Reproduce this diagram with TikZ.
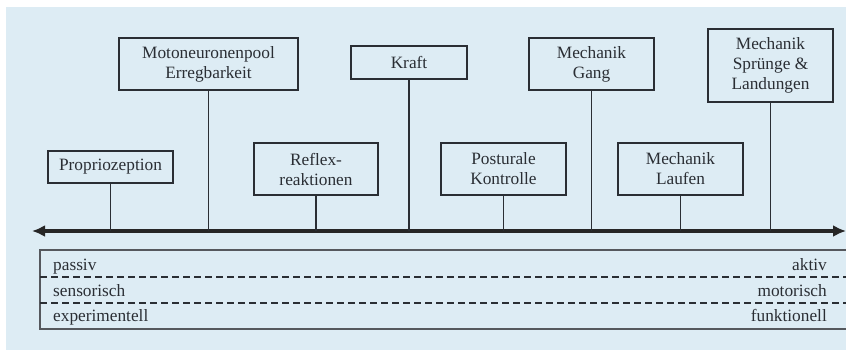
\documentclass[tikz,border=0pt]{standalone}
\usepackage{fontspec}
\setmainfont{Liberation Serif}
\usetikzlibrary{arrows.meta}
\definecolor{hellblau}{RGB}{221,236,244}
\definecolor{dunkel}{RGB}{42,46,52}
\tikzset{x=1pt, y=-1pt, % one unit is one pixel, y runs downwards
	kasten/.style={draw=dunkel, line width=1.8pt, align=center, inner sep=0pt,
		minimum width=125pt, minimum height=52pt,
		font=\fontsize{17.3}{20}\selectfont, text=dunkel}, % the boxes above the axis
	stiel/.style={draw=dunkel, line width=1.6pt}, % stem from a box down to the axis
	achse/.style={draw=black!85, line width=3.5pt, {Latex[length=13pt,width=12pt]}-{Latex[length=13pt,width=12pt]}},
	skala/.style={draw=dunkel!80, line width=1.3pt, minimum width=810pt, minimum height=79pt, inner sep=0pt},
	trenner/.style={draw=dunkel, line width=1.8pt, dash pattern=on 7pt off 4pt},
	beschriftung/.style={font=\fontsize{17.3}{20}\selectfont, text=dunkel, inner sep=0pt},
}
\begin{document}
\begin{tikzpicture}
	\useasboundingbox (0,0) rectangle (846,351);
	\clip (0,0) rectangle (846,351);
	\fill[hellblau] (6,7) rectangle (846,350);
	% the axis
	\coordinate (Links) at (32,231);
	\coordinate (Rechts) at (846,231);
	\draw[achse] (Links) -- (Rechts);

	% lower row
	\node[kasten, minimum height=32pt] (Propriozeption) at (110.5,167) {Propriozeption};
	\node[kasten, minimum width=124pt] (Reflex) at (316,169) {Reflex-\\reaktionen};
	\node[kasten] (Posturale) at (503.5,169) {Posturale\\Kontrolle};
	\node[kasten] (Laufen) at (680.5,169) {Mechanik\\Laufen};
	% upper row
	\node[kasten, minimum width=179pt] (Motoneuronenpool) at (208.5,64) {Motoneuronenpool\\Erregbarkeit};
	\node[kasten, minimum width=116pt, minimum height=33pt] (Kraft) at (409,62.5) {Kraft};
	\node[kasten] (Gang) at (591.5,64) {Mechanik\\Gang};
	\node[kasten, minimum height=73pt] (Spruenge) at (770.5,65.5) {Mechanik\\Sprünge \&\\Landungen};

	%% stems down to the axis
	\draw[stiel] (Propriozeption) -- (Propriozeption |- Links);
	\draw[stiel] (Motoneuronenpool) -- (Motoneuronenpool |- Links);
	\draw[stiel] (Reflex) -- (Reflex |- Links);
	\draw[stiel] (Kraft) -- (Kraft |- Links);
	\draw[stiel] (Posturale) -- (Posturale |- Links);
	\draw[stiel] (Gang) -- (Gang |- Links);
	\draw[stiel] (Laufen) -- (Laufen |- Links);
	\draw[stiel] (Spruenge) -- (Spruenge |- Links);

	%% the scale below
	\node[skala] (Skala) at (445,289.5) {};
	\coordinate (TrennerA) at (40,277);
	\coordinate (TrennerB) at (40,303);
	\draw[trenner] (TrennerA) -- (TrennerA -| Rechts);
	\draw[trenner] (TrennerB) -- (TrennerB -| Rechts);
	\node[beschriftung, anchor=base west] (Passiv) at (53,270) {passiv};
	\node[beschriftung, anchor=base west] (Sensorisch) at (53,296.5) {sensorisch};
	\node[beschriftung, anchor=base west] (Experimentell) at (53,321.5) {experimentell};
	\node[beschriftung, anchor=base east] (Aktiv) at (827,270) {aktiv};
	\node[beschriftung, anchor=base east] (Motorisch) at (827,296.5) {motorisch};
	\node[beschriftung, anchor=base east] (Funktionell) at (827,321.5) {funktionell};
\end{tikzpicture}
\end{document}
